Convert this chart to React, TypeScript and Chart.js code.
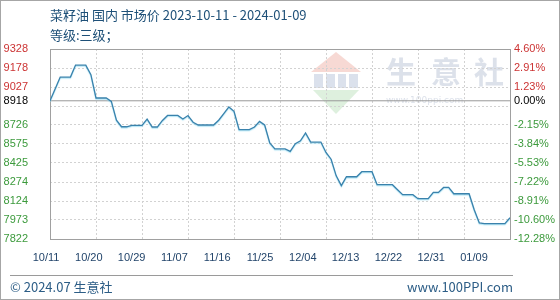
import { useEffect, useRef } from 'react';
import { Chart, registerables } from 'chart.js';

Chart.register(...registerables);

// ---- data ----
const titleText = '菜籽油 国内 市场价 2023-10-11 - 2024-01-09';
const subTitleText = '等级:三级；';
const xTickLabels = ['10/11', '10/20', '10/29', '11/07', '11/16', '11/25', '12/04', '12/13', '12/22', '12/31', '01/09'];
const xTickDays = [0, 9, 18, 27, 36, 45, 54, 63, 72, 81, 90];
const prices = [
  8918, 9012, 9106, 9106, 9106, 9201, 9201, 9201, 9125, 8940,
  8940, 8940, 8913, 8764, 8712, 8712, 8723, 8723, 8723, 8772,
  8710, 8710, 8762, 8802, 8802, 8802, 8774, 8801, 8748, 8726,
  8726, 8726, 8726, 8764, 8816, 8869, 8835, 8689, 8689, 8689,
  8710, 8755, 8726, 8583, 8537, 8537, 8537, 8517, 8578, 8601,
  8663, 8591, 8591, 8591, 8508, 8455, 8323, 8246, 8316, 8316,
  8316, 8356, 8356, 8356, 8253, 8253, 8253, 8253, 8213, 8174,
  8174, 8174, 8142, 8142, 8142, 8192, 8192, 8231, 8231, 8181,
  8181, 8181, 8181, 8055, 7950, 7944, 7944, 7944, 7944, 7944,
  7991,
];
const baseValue = 8918;
const yMin = 7822.45;
const yMax = 9328.45;
const yGridSteps = 10;
const lastDay = 90;

const RED = '#cc3333';
const GREEN = '#3c9a3c';
const GRID = '#d2d2d2';
const TICK_FONT = { family: '"Liberation Sans", Arial, sans-serif', size: 11 };

function yTickValues(): number[] {
  const step = (yMax - yMin) / yGridSteps;
  const vals: number[] = [];
  for (let i = 0; i <= yGridSteps; i++) vals.push(yMin + step * i);
  vals.push(baseValue);
  return vals.sort((a, b) => a - b);
}
const isBase = (v: number) => Math.abs(v - baseValue) < 0.01;
const isHidden = (v: number) => !isBase(v) && Math.abs(v - baseValue) < 60;
const tickColor = (v: number) => (isBase(v) ? '#000000' : v > baseValue ? RED : GREEN);

const decorPlugin = {
  id: 'decor',
  beforeDraw(chart: any) {
    const ctx = chart.ctx as CanvasRenderingContext2D;
    ctx.save();
    // logo: roof
    ctx.fillStyle = 'rgba(238,170,160,0.45)';
    ctx.beginPath();
    ctx.moveTo(336, 52);
    ctx.lineTo(361, 72);
    ctx.lineTo(311, 72);
    ctx.closePath();
    ctx.fill();
    // logo: blocks
    ctx.fillStyle = 'rgba(190,200,220,0.55)';
    ctx.fillRect(314, 74, 9, 14);
    ctx.fillRect(326, 74, 9, 14);
    ctx.fillRect(338, 74, 8, 14);
    ctx.fillRect(349, 74, 9, 14);
    // logo: green base
    ctx.fillStyle = 'rgba(190,225,190,0.5)';
    ctx.beginPath();
    ctx.moveTo(313, 90);
    ctx.lineTo(359, 90);
    ctx.lineTo(336, 114);
    ctx.closePath();
    ctx.fill();
    // text
    ctx.fillStyle = 'rgba(196,205,220,0.6)';
    ctx.font = 'bold 30px "Noto Sans CJK SC", sans-serif';
    ctx.textAlign = 'center';
    ctx.textBaseline = 'middle';
    const chars = ['生', '意', '社'];
    const cx = [401, 446, 489];
    chars.forEach((c, i) => ctx.fillText(c, cx[i], 72));
    ctx.font = '9px "DejaVu Sans", sans-serif';
    ctx.textAlign = 'left';
    ctx.fillStyle = 'rgba(196,205,220,0.6)';
    ctx.fillText('www.100ppi.com', 386, 101);
    ctx.restore();
  },
  beforeDatasetsDraw(chart: any) {
    const ctx = chart.ctx as CanvasRenderingContext2D;
    const { left, top, right, bottom } = chart.chartArea;
    ctx.save();
    ctx.strokeStyle = '#a0a0a0';
    ctx.lineWidth = 1;
    ctx.setLineDash([]);
    ctx.strokeRect(left + 0.5, top + 0.5, right - left, bottom - top);
    ctx.restore();
  },
  beforeDatasetDraw(chart: any, args: any) {
    if (args.index !== 0) return;
    const ctx = chart.ctx as CanvasRenderingContext2D;
    ctx.save();
    ctx.shadowColor = 'rgba(140,215,240,0.7)';
    ctx.shadowBlur = 1;
    ctx.shadowOffsetX = 0;
    ctx.shadowOffsetY = 1;
  },
  afterDatasetDraw(chart: any, args: any) {
    if (args.index !== 0) return;
    chart.ctx.restore();
  },
};

function PriceChart() {
  const ref = useRef<HTMLCanvasElement | null>(null);
  useEffect(() => {
    if (!ref.current) return;
    const linePoints = prices.map((v, i) => ({ x: i, y: v }));
    const basePoints = [
      { x: 0, y: baseValue },
      { x: lastDay, y: baseValue },
    ];
    const chart = new Chart(ref.current, {
      type: 'line',
      data: {
        datasets: [
          {
            data: linePoints,
            borderColor: '#3a82ac',
            borderWidth: 1.3,
            pointRadius: 0,
            tension: 0,
            fill: false,
            order: 0,
          },
          {
            data: basePoints,
            borderColor: '#999999',
            borderWidth: 1,
            pointRadius: 0,
            fill: false,
            order: 1,
          },
        ],
      },
      options: {
        animation: false,
        responsive: false,
        devicePixelRatio: 1,
        events: [],
        layout: { padding: { top: 49, left: 0, right: 0, bottom: 0 } },
        plugins: { legend: { display: false }, tooltip: { enabled: false }, title: { display: false } },
        scales: {
          x: {
            type: 'linear',
            position: 'bottom',
            min: 0,
            max: lastDay,
            afterBuildTicks: (s: any) => {
              s.ticks = xTickDays.map((v) => ({ value: v }));
            },
            afterFit: (s: any) => {
              s.height = 0;
            },
            ticks: { display: false },
            grid: { color: GRID, drawTicks: false, lineWidth: 1 },
            border: { display: false, dash: [2, 2] },
          },
          xl: {
            type: 'linear',
            position: 'bottom',
            min: 0,
            max: 96.73,
            afterBuildTicks: (s: any) => {
              s.ticks = xTickDays.map((v) => ({ value: v }));
            },
            afterFit: (s: any) => {
              s.height = 61;
            },
            ticks: {
              autoSkip: false,
              maxRotation: 0,
              padding: 12,
              labelOffset: -4,
              font: TICK_FONT,
              color: '#23456b',
              callback: (_v: any, i: number) => xTickLabels[i],
            },
            grid: { display: false, drawTicks: false },
            border: { display: false },
          },
          y: {
            type: 'linear',
            position: 'left',
            min: yMin,
            max: yMax,
            afterBuildTicks: (s: any) => {
              s.ticks = yTickValues().map((v) => ({ value: v }));
            },
            afterFit: (s: any) => {
              s.width = 50;
            },
            ticks: {
              autoSkip: false,
              padding: 22,
              font: TICK_FONT,
              color: (c: any) => tickColor(c.tick.value),
              callback: (v: any) => (isHidden(Number(v)) ? '' : String(Math.round(Number(v)))),
            },
            grid: {
              drawTicks: false,
              color: (c: any) => (c.tick && isBase(c.tick.value) ? 'rgba(0,0,0,0)' : GRID),
            },
            border: { display: false, dash: [2, 2] },
          },
          y2: {
            type: 'linear',
            position: 'right',
            min: yMin,
            max: yMax,
            afterBuildTicks: (s: any) => {
              s.ticks = yTickValues().map((v) => ({ value: v }));
            },
            afterFit: (s: any) => {
              s.width = 50;
            },
            ticks: {
              autoSkip: false,
              padding: 4,
              font: TICK_FONT,
              color: (c: any) => tickColor(c.tick.value),
              callback: (v: any) => {
                const n = Number(v);
                if (isHidden(n)) return '';
                return (((n - baseValue) / baseValue) * 100).toFixed(2) + '%';
              },
            },
            grid: { display: false, drawTicks: false },
            border: { display: false },
          },
        },
      },
      plugins: [decorPlugin],
    } as any);
    return () => chart.destroy();
  }, []);
  return <canvas ref={ref} width={560} height={300} style={{ position: 'absolute', left: 0, top: 0, width: 560, height: 300 }} />;
}

export default function App() {
  const cjk = '"Noto Sans CJK SC", "Noto Sans", sans-serif';
  return (
    <div style={{ position: 'fixed', left: 0, top: 0, width: 560, height: 300, background: '#ffffff', overflow: 'hidden' }}>
      <PriceChart />
      <div style={{ position: 'absolute', left: 50, top: 6, fontFamily: cjk, fontSize: 13, lineHeight: '18px', color: '#1e5078', whiteSpace: 'pre' }}>
        {titleText}
      </div>
      <div style={{ position: 'absolute', left: 50, top: 26, fontFamily: cjk, fontSize: 13, lineHeight: '18px', color: '#1e5078', whiteSpace: 'pre' }}>
        {subTitleText}
      </div>
      <div style={{ position: 'absolute', left: 10, top: 275, width: 503, height: 1, background: '#9a9a9a' }} />
      <div style={{ position: 'absolute', left: 10, top: 278, fontFamily: cjk, fontSize: 13, lineHeight: '18px', color: '#2c5d86', whiteSpace: 'pre' }}>
        © 2024.07 生意社
      </div>
      <div style={{ position: 'absolute', right: 47, top: 278, fontFamily: cjk, fontSize: 13, lineHeight: '18px', color: '#2c5d86', whiteSpace: 'pre' }}>
        www.100PPI.com
      </div>
      <div style={{ position: 'absolute', left: 0, top: 0, width: 560, height: 300, boxSizing: 'border-box', border: '1px solid #a6a6a6', pointerEvents: 'none' }} />
    </div>
  );
}
